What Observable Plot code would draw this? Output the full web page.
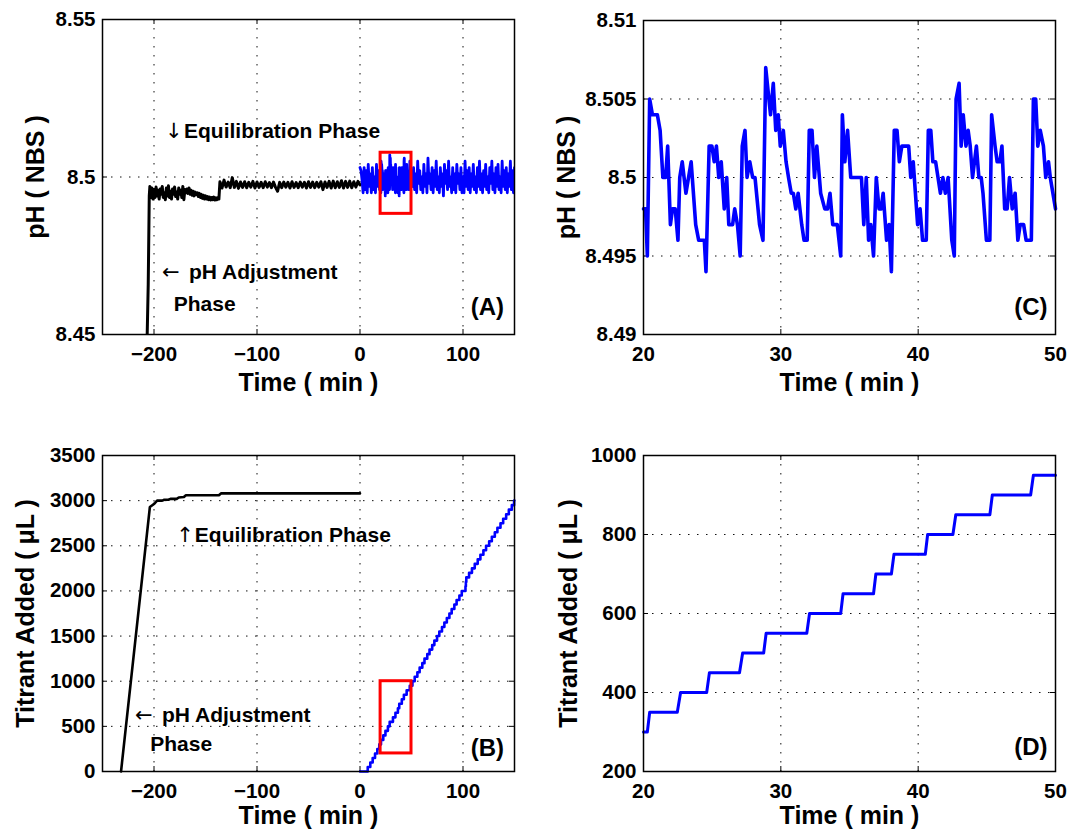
<!DOCTYPE html>
<html><head><meta charset="utf-8">
<script src="https://cdn.jsdelivr.net/npm/d3@7"></script>
<script src="https://cdn.jsdelivr.net/npm/@observablehq/plot@0.6"></script>
<style>
html,body{margin:0;padding:0;background:#fff;}
#root{position:relative;width:1070px;height:830px;overflow:hidden;background:#fff;}
</style></head><body><div id="root"></div>
<script>
// ---------------- tick values and labels ----------------
const xTicksWide = [-200, -100, 0, 100];
const xTickLabelsWide = ["−200", "−100", "0", "100"];
const xTicksZoom = [20, 30, 40, 50];
const xTickLabelsZoom = ["20", "30", "40", "50"];
const yTicksA = [8.45, 8.5, 8.55];
const yTickLabelsA = ["8.45", "8.5", "8.55"];
const yTicksC = [8.49, 8.495, 8.5, 8.505, 8.51];
const yTickLabelsC = ["8.49", "8.495", "8.5", "8.505", "8.51"];
const yTicksB = [0, 500, 1000, 1500, 2000, 2500, 3000, 3500];
const yTickLabelsB = ["0", "500", "1000", "1500", "2000", "2500", "3000", "3500"];
const yTicksD = [200, 400, 600, 800, 1000];
const yTickLabelsD = ["200", "400", "600", "800", "1000"];

// ---------------- Panel A: pH, black = pH adjustment + equilibration ----------------
const adjustTime = [-206.6, -205.6, -204.6];
const adjustPH = [8.45, 8.466, 8.494];
// equilibration part 1: sampled every 1 min starting at -204
const equil1Start = -204, equil1Step = 1;
const equil1PH = [
 8.4970,8.4935,8.4965,8.4930,8.4960,8.4935,8.4968,8.4940,8.4958,8.4930,
 8.4962,8.4945,8.4970,8.4935,8.4950,8.4928,8.4965,8.4940,8.4972,8.4935,
 8.4955,8.4930,8.4962,8.4945,8.4968,8.4938,8.4952,8.4930,8.4965,8.4945,
 8.4958,8.4935,8.4970,8.4928,8.4960,8.4950,8.4962,8.4948,8.4965,8.4945,
 8.4958,8.4942,8.4955,8.4940,8.4952,8.4945,8.4950,8.4938,8.4948,8.4935,
 8.4945,8.4932,8.4942,8.4930,8.4940,8.4930,8.4938,8.4928,8.4936,8.4927,
 8.4935,8.4928,8.4936,8.4927,8.4934,8.4928,8.4935,8.4930];
// equilibration part 2: sampled every 2 min starting at -136
const equil2Start = -136, equil2Step = 2;
const equil2PH = [
 8.4985,8.4965,8.4990,8.4968,8.4984,8.4966,8.4998,8.4967,8.4986,8.4964,
 8.4984,8.4967,8.4985,8.4966,8.4983,8.4968,8.4986,8.4965,8.4984,8.4967,
 8.4983,8.4966,8.4985,8.4968,8.4982,8.4966,8.4984,8.4967,8.4955,8.4983,
 8.4966,8.4984,8.4968,8.4983,8.4965,8.4985,8.4967,8.4982,8.4966,8.4984,
 8.4968,8.4983,8.4965,8.4985,8.4967,8.4984,8.4966,8.4983,8.4968,8.4985,
 8.4960,8.4984,8.4967,8.4986,8.4965,8.4987,8.4966,8.4985,8.4967,8.4988,
 8.4965,8.4986,8.4967,8.4987,8.4966,8.4985,8.4968,8.4986,8.4975];

// blue (titration) pH, 0-19 min, 1 min samples
const bluePreStart = 0, bluePreStep = 1;
const bluePrePH = [8.503,8.502,8.499,8.495,8.503,8.496,8.502,8.495,8.504,8.497,
 8.501,8.495,8.503,8.496,8.500,8.495,8.504,8.497,8.502,8.496];
// blue pH 51-150 min, 1 min samples
const bluePostStart = 51, bluePostStep = 1;
const bluePostPH = [
 8.497,8.503,8.496,8.501,8.495,8.505,8.498,8.502,8.496,8.500,
 8.495,8.504,8.497,8.501,8.495,8.506,8.498,8.501,8.496,8.503,
 8.495,8.502,8.497,8.505,8.496,8.500,8.495,8.503,8.497,8.501,
 8.494,8.504,8.498,8.502,8.496,8.505,8.497,8.500,8.495,8.503,
 8.496,8.501,8.495,8.504,8.498,8.501,8.496,8.503,8.495,8.500,
 8.495,8.505,8.497,8.502,8.496,8.503,8.495,8.501,8.497,8.504,
 8.496,8.500,8.495,8.503,8.497,8.505,8.496,8.501,8.495,8.502,
 8.497,8.504,8.496,8.500,8.495,8.503,8.498,8.505,8.496,8.501,
 8.495,8.503,8.497,8.504,8.496,8.500,8.495,8.505,8.497,8.502,
 8.496,8.503,8.495,8.501,8.497,8.505,8.496,8.502,8.495,8.503];

// ---------------- Panel C: zoom 20-50 min ----------------
const cTime = [20.00,20.15,20.28,20.45,20.65,21.01,21.21,21.41,21.61,21.76,21.96,22.11,22.31,22.51,22.64,22.82,23.09,23.47,23.80,24.02,
 24.43,24.55,24.78,24.98,25.15,25.31,25.48,25.66,25.88,26.06,26.21,26.49,26.64,26.84,27.04,27.19,27.39,27.54,27.74,27.95,
 28.12,28.45,28.70,28.90,29.13,29.25,29.45,29.63,29.81,29.96,30.18,30.38,30.56,30.76,30.91,31.09,31.26,31.52,31.69,31.92,
 32.07,32.27,32.45,32.62,32.90,33.20,33.40,33.58,33.78,34.11,34.36,34.48,34.66,34.86,35.09,35.87,36.04,36.22,36.39,36.55,
 36.75,36.95,37.15,37.30,37.45,37.70,37.88,38.05,38.26,38.46,38.63,38.81,39.31,39.46,39.64,39.96,40.14,40.32,40.59,40.74,
 40.92,41.07,41.27,41.62,41.80,41.98,42.18,42.45,42.63,42.76,42.98,43.13,43.28,43.48,43.64,43.79,43.96,44.24,44.42,44.59,
 44.72,44.97,45.22,45.35,45.60,45.75,45.95,46.10,46.30,46.48,46.65,46.85,47.06,47.26,47.43,47.68,47.86,48.24,48.39,48.56,
 48.71,48.89,49.12,49.29,49.49,49.62,50.00];
const cPH = [8.498,8.498,8.495,8.505,8.504,8.504,8.503,8.500,8.500,8.502,8.497,8.498,8.498,8.496,8.500,8.501,8.499,8.501,8.497,8.496,
 8.496,8.494,8.502,8.502,8.501,8.502,8.500,8.501,8.498,8.500,8.497,8.497,8.498,8.497,8.495,8.502,8.503,8.500,8.501,8.500,
 8.500,8.497,8.496,8.507,8.505,8.504,8.506,8.503,8.504,8.502,8.503,8.501,8.500,8.499,8.499,8.498,8.499,8.497,8.496,8.496,
 8.503,8.503,8.500,8.502,8.499,8.498,8.498,8.499,8.497,8.497,8.495,8.504,8.501,8.503,8.500,8.500,8.497,8.500,8.496,8.497,
 8.495,8.500,8.498,8.498,8.499,8.496,8.497,8.494,8.503,8.503,8.501,8.502,8.502,8.500,8.501,8.497,8.498,8.496,8.496,8.503,
 8.503,8.501,8.501,8.499,8.500,8.499,8.500,8.496,8.495,8.505,8.506,8.502,8.504,8.502,8.503,8.502,8.500,8.502,8.500,8.500,
 8.499,8.496,8.496,8.504,8.502,8.501,8.501,8.502,8.498,8.498,8.500,8.498,8.499,8.496,8.497,8.497,8.496,8.496,8.505,8.505,
 8.502,8.503,8.502,8.500,8.501,8.500,8.498];

// ---------------- Panel B: titrant added ----------------
const bBlackTime = [-232, -204, -201, -199, -197, -192, -190, -186, -184, -178, -176, -171, -169, -137, -135, 0];
const bBlackVol = [0, 2930, 2955, 2975, 3000, 3000, 3010, 3010, 3020, 3020, 3035, 3040, 3060, 3060, 3080, 3080];
// blue: times at which the volume changed, and the volume after each change
const bBlueTime = [0, 7.5, 10.0, 12.3, 14.6, 16.8, 18.7, 20.4, 22.6, 24.7, 27.1, 28.8, 32.0, 34.4, 36.8, 38.1, 40.6, 42.6, 45.3, 48.3,
 50.9, 53.1, 55.7, 57.9, 60.5, 62.6, 65.3, 67.5, 70.1, 72.2, 74.8, 77.0, 79.6, 81.9, 84.3, 86.8, 89.0, 91.6, 93.8, 96.5,
 98.8, 102.4, 102.8, 103.2, 105.9, 108.7, 111.4, 114.3, 116.9, 119.8, 122.4, 125.4, 128.0, 130.9, 133.4, 136.4, 139.0, 141.9, 144.5, 147.4, 149.6, 150];
const bBlueVol = [0, 50, 100, 150, 200, 250, 300, 350, 400, 450, 500, 550, 600, 650, 700, 750, 800, 850, 900, 950,
 1000, 1050, 1100, 1150, 1200, 1250, 1300, 1350, 1400, 1450, 1500, 1550, 1600, 1650, 1700, 1750, 1800, 1850, 1900, 1950,
 2000, 2050, 2100, 2150, 2200, 2250, 2300, 2350, 2400, 2450, 2500, 2550, 2600, 2650, 2700, 2750, 2800, 2850, 2900, 2950, 3000, 3000];

// ---------------- Panel D: zoom 20-50 min ----------------
const dTime = [20, 20.28, 20.45, 22.46, 22.70, 24.60, 24.80, 26.99, 27.22, 28.75, 28.93, 31.89, 32.09, 34.36, 34.53, 36.75, 36.92,
 38.05, 38.24, 40.52, 40.69, 42.53, 42.74, 45.22, 45.40, 48.19, 48.39, 50];
const dVol = [300, 300, 350, 350, 400, 400, 450, 450, 500, 500, 550, 550, 600, 600, 650, 650, 700,
 700, 750, 750, 800, 800, 850, 850, 900, 900, 950, 950];

// zoom boxes drawn in red on panels A and B
const zoomBoxA = {t: [20, 50], v: [8.4883, 8.5077]};
const zoomBoxB = {t: [20, 50], v: [200, 1000]};

// ---------------- build tables ----------------
const sampled = (start, step, arr) => arr.map((v, i) => ({t: start + i * step, v}));
const paired = (ts, vs) => ts.map((t, i) => ({t, v: vs[i]}));
const blackA = [...paired(adjustTime, adjustPH), ...sampled(equil1Start, equil1Step, equil1PH), ...sampled(equil2Start, equil2Step, equil2PH)];
const blueA = [...sampled(bluePreStart, bluePreStep, bluePrePH), ...paired(cTime, cPH), ...sampled(bluePostStart, bluePostStep, bluePostPH)];
const lineC = paired(cTime, cPH);
const blackB = paired(bBlackTime, bBlackVol);
const blueB = paired(bBlueTime, bBlueVol);
const lineD = paired(dTime, dVol);

const FONT = '"Liberation Sans", Arial, Helvetica, sans-serif';
const BLUE = "#0000ff";
const W = 535, H = 415;

function fmt(ticks, labels) { return d => labels[ticks.findIndex(t => Math.abs(t - d) < 1e-9)]; }

function panel(c) {
  const [mt, mr, mb, ml] = c.m;
  const pw = W - ml - mr, ph = H - mt - mb;
  const svg = Plot.plot({
    width: W, height: H,
    marginTop: mt, marginRight: mr, marginBottom: mb, marginLeft: ml,
    style: {fontFamily: FONT, fontSize: "20.5px", fontWeight: "bold", color: "black", background: "white", overflow: "visible"},
    x: {domain: c.xDomain, ticks: c.xTicks, tickFormat: fmt(c.xTicks, c.xLabels), tickSize: 0, tickPadding: 12, label: null},
    y: {domain: c.yDomain, ticks: c.yTicks, tickFormat: fmt(c.yTicks, c.yLabels), tickSize: 0, tickPadding: 7, label: null},
    marks: [
      Plot.ruleX(c.xTicks, {x: d => d, stroke: "#111", strokeWidth: 1, strokeDasharray: "1.5,7.5"}),
      Plot.ruleY(c.yTicks, {y: d => d, stroke: "#111", strokeWidth: 1, strokeDasharray: "1.5,7.5"}),
      Plot.tickY(c.yTicks, {y: d => d, stroke: "black", insetRight: pw - 5}),
      Plot.tickY(c.yTicks, {y: d => d, stroke: "black", insetLeft: pw - 5}),
      Plot.tickX(c.xTicks, {x: d => d, stroke: "black", insetTop: ph - 5}),
      Plot.tickX(c.xTicks, {x: d => d, stroke: "black", insetBottom: ph - 5}),
      ...c.marks,
      Plot.frame({stroke: "black", strokeWidth: 1.5}),
      Plot.text([c.xTitle], {text: d => d, frameAnchor: "bottom", dy: c.xTitleOffset, lineAnchor: "bottom", fontSize: 25}),
      Plot.text([c.yTitle], {text: d => d, frameAnchor: "left", dx: -c.yTitleOffset, rotate: -90, textAnchor: "middle", lineAnchor: "bottom", fontSize: 25}),
      Plot.text([c.tag], {text: d => d, frameAnchor: "bottom-right", dx: -c.tagDx, dy: -c.tagDy, textAnchor: "end", lineAnchor: "middle", fontSize: 24})
    ]
  });
  svg.style.position = "absolute";
  svg.style.left = c.left + "px";
  svg.style.top = c.top + "px";
  svg.style.maxWidth = "none";
  document.getElementById("root").appendChild(svg);
}

function note(x, y, arrow, label, gap) {
  return [
    Plot.text([arrow], {text: d => d, x, y, textAnchor: "start", lineAnchor: "middle", fontSize: 21, fontWeight: "normal", fontFamily: '"DejaVu Sans", sans-serif'}),
    Plot.text([label], {text: d => d, x, y, dx: gap, textAnchor: "start", lineAnchor: "middle", fontSize: 21})
  ];
}
function plain(x, y, label) {
  return Plot.text([label], {text: d => d, x, y, textAnchor: "start", lineAnchor: "middle", fontSize: 21});
}

// Panel A
panel({
  left: 0, top: 0, m: [19, 21, 81, 102],
  xDomain: [-250, 150], yDomain: [8.45, 8.55],
  xTicks: xTicksWide, xLabels: xTickLabelsWide, yTicks: yTicksA, yLabels: yTickLabelsA,
  xTitle: "Time ( min )", xTitleOffset: 56, yTitle: "pH ( NBS )", yTitleOffset: 59, tag: "(A)", tagDx: 10.5, tagDy: 27,
  marks: [
    Plot.line(blackA, {x: "t", y: "v", stroke: "black", strokeWidth: 3, clip: true}),
    Plot.line(blueA, {x: "t", y: "v", stroke: BLUE, strokeWidth: 2.8, clip: true}),
    Plot.rect([zoomBoxA], {x1: d => d.t[0], x2: d => d.t[1], y1: d => d.v[0], y2: d => d.v[1], fill: "none", stroke: "#ff0000", strokeWidth: 3}),
    ...note(-189.3, 8.5145, "↓", "Equilibration Phase", 19),
    ...note(-192.2, 8.4697, "←", "pH Adjustment", 27),
    plain(-180.8, 8.4595, "Phase")
  ]
});

// Panel C
panel({
  left: 535, top: 0, m: [20, 15, 81, 108],
  xDomain: [20, 50], yDomain: [8.49, 8.51],
  xTicks: xTicksZoom, xLabels: xTickLabelsZoom, yTicks: yTicksC, yLabels: yTickLabelsC,
  xTitle: "Time ( min )", xTitleOffset: 56, yTitle: "pH ( NBS )", yTitleOffset: 69, tag: "(C)", tagDx: 8, tagDy: 27,
  marks: [
    Plot.line(lineC, {x: "t", y: "v", stroke: BLUE, strokeWidth: 3.6})
  ]
});

// Panel B
panel({
  left: 0, top: 415, m: [40, 21, 59, 102],
  xDomain: [-250, 150], yDomain: [0, 3500],
  xTicks: xTicksWide, xLabels: xTickLabelsWide, yTicks: yTicksB, yLabels: yTickLabelsB,
  xTitle: "Time ( min )", xTitleOffset: 52, yTitle: "Titrant Added ( μL )", yTitleOffset: 69, tag: "(B)", tagDx: 10.5, tagDy: 23,
  marks: [
    Plot.line(blackB, {x: "t", y: "v", stroke: "black", strokeWidth: 2.6}),
    Plot.line(blueB, {x: "t", y: "v", stroke: BLUE, strokeWidth: 2.6, curve: "step-after"}),
    Plot.rect([zoomBoxB], {x1: d => d.t[0], x2: d => d.t[1], y1: d => d.v[0], y2: d => d.v[1], fill: "none", stroke: "#ff0000", strokeWidth: 3}),
    ...note(-178.4, 2622, "↑", "Equilibration Phase", 18.6),
    ...note(-218.5, 620, "←", "pH Adjustment", 27),
    plain(-203.7, 307, "Phase")
  ]
});

// Panel D
panel({
  left: 535, top: 415, m: [40, 15, 59, 108],
  xDomain: [20, 50], yDomain: [200, 1000],
  xTicks: xTicksZoom, xLabels: xTickLabelsZoom, yTicks: yTicksD, yLabels: yTickLabelsD,
  xTitle: "Time ( min )", xTitleOffset: 52, yTitle: "Titrant Added ( μL )", yTitleOffset: 67, tag: "(D)", tagDx: 8, tagDy: 24,
  marks: [
    Plot.line(lineD, {x: "t", y: "v", stroke: BLUE, strokeWidth: 3})
  ]
});
</script></body></html>
